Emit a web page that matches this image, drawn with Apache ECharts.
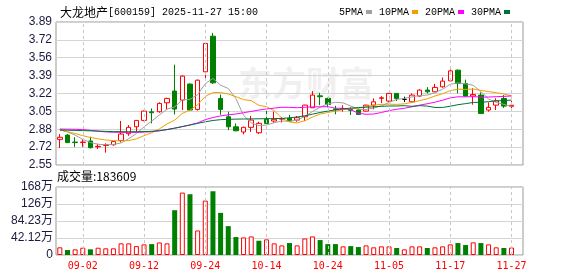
<!DOCTYPE html>
<html><head><meta charset="utf-8">
<script src="https://cdn.jsdelivr.net/npm/echarts@6/dist/echarts.min.js"></script>
<style>html,body{margin:0;padding:0;background:#fff}#c{width:578px;height:276px}</style>
</head><body><div id="c"></div>
<script>
const stockName = '大龙地产';
const stockCode = '[600159] 2025-11-27 15:00';
const dates = ['08-28','08-29','09-01','09-02','09-03','09-04','09-05','09-08','09-09','09-10','09-11','09-12',
'09-15','09-16','09-17','09-18','09-19','09-22','09-23','09-24','09-25','09-26','09-29','09-30',
'10-09','10-10','10-13','10-14','10-15','10-16','10-17','10-20','10-21','10-22','10-23','10-24',
'10-27','10-28','10-29','10-30','10-31','11-03','11-04','11-05','11-06','11-07','11-10','11-11',
'11-12','11-13','11-14','11-17','11-18','11-19','11-20','11-21','11-24','11-25','11-26','11-27'];
const opens = [2.79,2.83,2.765,2.76,2.775,2.72,2.733,2.74,2.78,2.843,2.908,2.968,3.048,3.049,3.133,3.243,3.158,3.308,3.071,3.423,
3.757,3.174,3.002,2.908,2.859,2.903,2.852,2.978,2.962,2.98,2.987,2.971,3.002,3.086,3.198,3.174,3.075,3.07,3.07,3.065,
3.055,3.111,3.175,3.149,3.221,3.165,3.142,3.196,3.252,3.236,3.283,3.339,3.439,3.314,3.196,3.205,3.065,3.111,3.174,3.10];
const closes = [2.81,2.76,2.76,2.765,2.712,2.725,2.74,2.77,2.84,2.903,2.968,3.055,3.04,3.127,3.174,3.074,3.383,3.065,3.345,3.689,
3.32,3.071,2.908,2.871,2.903,2.971,2.94,2.94,2.978,2.985,2.962,2.993,3.111,3.205,3.19,3.118,3.07,3.078,3.062,3.024,
3.111,3.142,3.18,3.221,3.174,3.165,3.205,3.252,3.236,3.277,3.336,3.432,3.314,3.196,3.21,3.033,3.09,3.152,3.102,3.11];
const lows = [2.71,2.76,2.72,2.72,2.706,2.70,2.666,2.73,2.762,2.824,2.86,2.96,2.94,3.04,3.065,3.024,3.065,3.06,3.06,3.345,
3.31,3.02,2.877,2.865,2.837,2.86,2.84,2.935,2.946,2.948,2.955,2.955,2.962,3.085,3.111,3.09,3.025,3.05,3.018,3.02,
3.05,3.071,3.13,3.14,3.15,3.14,3.14,3.19,3.22,3.23,3.275,3.335,3.221,3.19,3.115,3.03,3.05,3.065,3.085,3.06];
const highs = [2.84,2.84,2.81,2.79,2.815,2.75,2.753,2.775,2.963,2.924,2.97,3.06,3.08,3.137,3.18,3.49,3.39,3.315,3.35,3.69,
3.788,3.21,3.05,2.94,2.91,3.01,2.955,3.07,3.05,3.00,3.02,3.01,3.115,3.242,3.227,3.18,3.105,3.11,3.09,3.08,
3.115,3.174,3.195,3.225,3.225,3.19,3.22,3.26,3.28,3.31,3.37,3.445,3.445,3.35,3.27,3.23,3.137,3.175,3.205,3.15];
const ma5 = [2.88,2.86,2.83,2.79,2.761,2.744,2.74,2.742,2.757,2.796,2.845,2.908,2.962,3.019,3.073,3.094,3.16,3.165,3.209,3.312,
3.361,3.298,3.267,3.172,3.015,2.945,2.919,2.925,2.946,2.962,2.96,2.971,3.005,3.051,3.092,3.123,3.138,3.132,3.103,3.071,
3.07,3.084,3.104,3.136,3.164,3.175,3.188,3.202,3.205,3.227,3.261,3.306,3.319,3.311,3.297,3.237,3.169,3.136,3.118,3.098];
const ma10 = [2.878,2.862,2.845,2.825,2.808,2.795,2.785,2.778,2.776,2.779,2.795,2.825,2.852,2.888,2.935,2.97,3.034,3.064,3.114,3.193,
3.228,3.229,3.216,3.19,3.163,3.153,3.109,3.096,3.059,2.989,2.953,2.945,2.965,2.999,3.027,3.042,3.055,3.069,3.077,3.082,
3.097,3.111,3.118,3.12,3.118,3.123,3.136,3.153,3.171,3.196,3.218,3.247,3.261,3.258,3.262,3.249,3.238,3.228,3.215,3.198];
const ma20 = [2.887,2.886,2.885,2.882,2.875,2.866,2.86,2.857,2.856,2.855,2.856,2.858,2.862,2.87,2.882,2.895,2.91,2.925,2.945,2.975,
2.995,3.01,3.02,3.028,3.04,3.052,3.065,3.075,3.083,3.091,3.09,3.087,3.091,3.095,3.095,3.097,3.082,3.082,3.068,3.035,
3.025,3.028,3.042,3.059,3.072,3.082,3.095,3.111,3.124,3.139,3.157,3.179,3.189,3.189,3.19,3.186,3.187,3.19,3.193,3.197];
const ma30 = [2.878,2.876,2.874,2.872,2.87,2.868,2.865,2.863,2.862,2.862,2.862,2.863,2.866,2.872,2.882,2.895,2.91,2.925,2.94,2.955,
2.967,2.975,2.978,2.98,2.981,2.982,2.983,2.984,2.985,2.987,2.992,3.0,3.011,3.026,3.042,3.055,3.066,3.076,3.083,3.088,
3.092,3.095,3.1,3.103,3.103,3.106,3.1,3.106,3.102,3.089,3.089,3.101,3.115,3.125,3.136,3.138,3.143,3.15,3.154,3.158];
const volumes = [190000,123000,140000,180000,140000,180000,165000,165000,288000,288000,220000,263000,270000,310000,288000,
1110000,1546000,1505000,608000,1348000,1579000,1044000,715000,444000,436000,460000,353000,387000,288000,238000,
296000,238000,410000,460000,370000,270000,270000,214000,220000,197000,238000,190000,214000,214000,173000,
140000,214000,214000,173000,190000,214000,263000,296000,247000,313000,296000,263000,190000,173000,183609];
const volUp = [1,0,1,1,0,1,1,1,1,1,1,1,0,1,1,0,1,0,1,1,0,0,0,0,1,1,0,1,1,1,0,1,1,1,0,0,0,1,0,0,1,1,1,1,0,1,1,1,0,1,1,1,0,0,1,0,1,1,0,1];
const yTickLabels = ['2.55','2.72','2.88','3.05','3.22','3.39','3.56','3.72','3.89'];
const volTickLabels = ['0','42.12万','84.23万','126万','168万'];
const xTickLabels = ['09-02','09-12','09-24','10-14','10-24','11-05','11-17','11-27'];
const maNames = ['5PMA','10PMA','20PMA','30PMA'];
const lastVolume = 183609;

const yMin = 2.55, yMax = 3.89, yStep = 0.1675;
const vMax = 1684600, vStep = 421150;
const RED = '#ff0000', GREEN = '#008000';
const cats = dates.concat(['']);
const candleData = dates.map((d, i) => {
  const v = [opens[i], closes[i], lows[i], highs[i]];
  if (opens[i] === closes[i]) {
    return { value: v, itemStyle: { color: '#000', color0: '#000', borderColor: '#000', borderColor0: '#000' } };
  }
  return v;
});
const volData = volumes.map((v, i) => ({
  value: v,
  itemStyle: volUp[i] ? { color: '#fff', borderColor: RED, borderWidth: 1 } : { color: GREEN, borderWidth: 0 }
}));
const vLines = xTickLabels.map(l => ({ xAxis: l }));
const markLineCfg = {
  symbol: 'none', silent: true, label: { show: false }, animation: false,
  lineStyle: { type: [3, 3], color: '#c8c8c8', width: 1 }, data: vLines
};
const axisFont = "'Liberation Sans','Noto Sans CJK SC'";
const maColors = ['#a0a0a0', '#f0a000', '#ff00ff', '#00703a'];
const maData = [ma5, ma10, ma20, ma30];

const chart = echarts.init(document.getElementById('c'), null, { renderer: 'canvas' });
chart.setOption({
  animation: false,
  backgroundColor: '#fff',
  title: {
    left: 55, top: 1,
    text: '{a|' + stockName + '}{b|' + stockCode + '}',
    textStyle: {
      fontWeight: 'normal',
      rich: {
        a: { fontFamily: 'Noto Sans CJK SC', fontSize: 12, color: '#000', fontWeight: 'normal' },
        b: { fontFamily: 'Liberation Mono', fontSize: 10, color: '#000', fontWeight: 'normal' }
      }
    }
  },
  legend: {
    left: 334, top: 2, data: maNames, icon: 'rect', itemWidth: 6, itemHeight: 4, itemGap: 7,
    align: 'right', selectedMode: false,
    textStyle: { fontFamily: 'Liberation Mono', fontSize: 10, color: '#000', padding: [0, -2, 0, 0] }
  },
  graphic: [
    { type: 'text', left: 57, top: 170, style: { text: '成交量:' + lastVolume, font: "12px 'Noto Sans CJK SC'", fill: '#000' } },
    { type: 'text', left: 238, top: 66, z: -10, style: { text: '东方财富', font: "bold 34px 'Noto Sans CJK SC'", fill: 'rgba(0,0,0,0.06)' } }
  ],
  grid: [
    { left: 56, top: 22, width: 467, height: 143, show: true, borderColor: '#999', borderWidth: 1 },
    { left: 56, top: 187, width: 467, height: 68, show: true, borderColor: '#999', borderWidth: 1 }
  ],
  xAxis: [
    { type: 'category', gridIndex: 0, data: cats, boundaryGap: true,
      axisLine: { show: false }, axisTick: { show: false }, axisLabel: { show: false }, splitLine: { show: false } },
    { type: 'category', gridIndex: 1, data: cats, boundaryGap: true,
      axisLine: { show: false }, axisTick: { show: false }, splitLine: { show: false },
      axisLabel: { show: true, margin: 6, color: RED, fontFamily: 'DejaVu Sans Mono', fontSize: 10,
        interval: (idx) => xTickLabels.indexOf(cats[idx]) >= 0 } }
  ],
  yAxis: [
    { type: 'value', gridIndex: 0, min: yMin, max: yMax, interval: yStep, scale: true,
      axisLine: { show: false }, axisTick: { show: false },
      splitLine: { show: true, lineStyle: { color: '#d4d4d4', width: 1 } },
      axisLabel: { margin: 4, color: '#1a1a40', fontFamily: axisFont, fontSize: 12,
        formatter: (v) => yTickLabels[Math.round((v - yMin) / yStep)] } },
    { type: 'value', gridIndex: 1, min: 0, max: vMax, interval: vStep,
      axisLine: { show: false }, axisTick: { show: false },
      splitLine: { show: true, lineStyle: { color: '#d4d4d4', width: 1 } },
      axisLabel: { margin: 3, color: '#1a1a40', fontFamily: axisFont, fontSize: 12,
        formatter: (v) => volTickLabels[Math.round(v / vStep)] } }
  ],
  series: [
    { type: 'candlestick', xAxisIndex: 0, yAxisIndex: 0, data: candleData, barWidth: 5,
      itemStyle: { color: '#fff', color0: GREEN, borderColor: RED, borderColor0: GREEN, borderColorDoji: '#000', borderWidth: 1 },
      markLine: markLineCfg, z: 3 },
    ...maNames.map((n, k) => ({
      name: n, type: 'line', xAxisIndex: 0, yAxisIndex: 0, data: maData[k], symbol: 'none', showSymbol: false,
      lineStyle: { color: maColors[k], width: 1 }, itemStyle: { color: maColors[k] }, z: 4
    })),
    { type: 'bar', xAxisIndex: 1, yAxisIndex: 1, data: volData, barWidth: 5, markLine: markLineCfg }
  ]
});
</script></body></html>
